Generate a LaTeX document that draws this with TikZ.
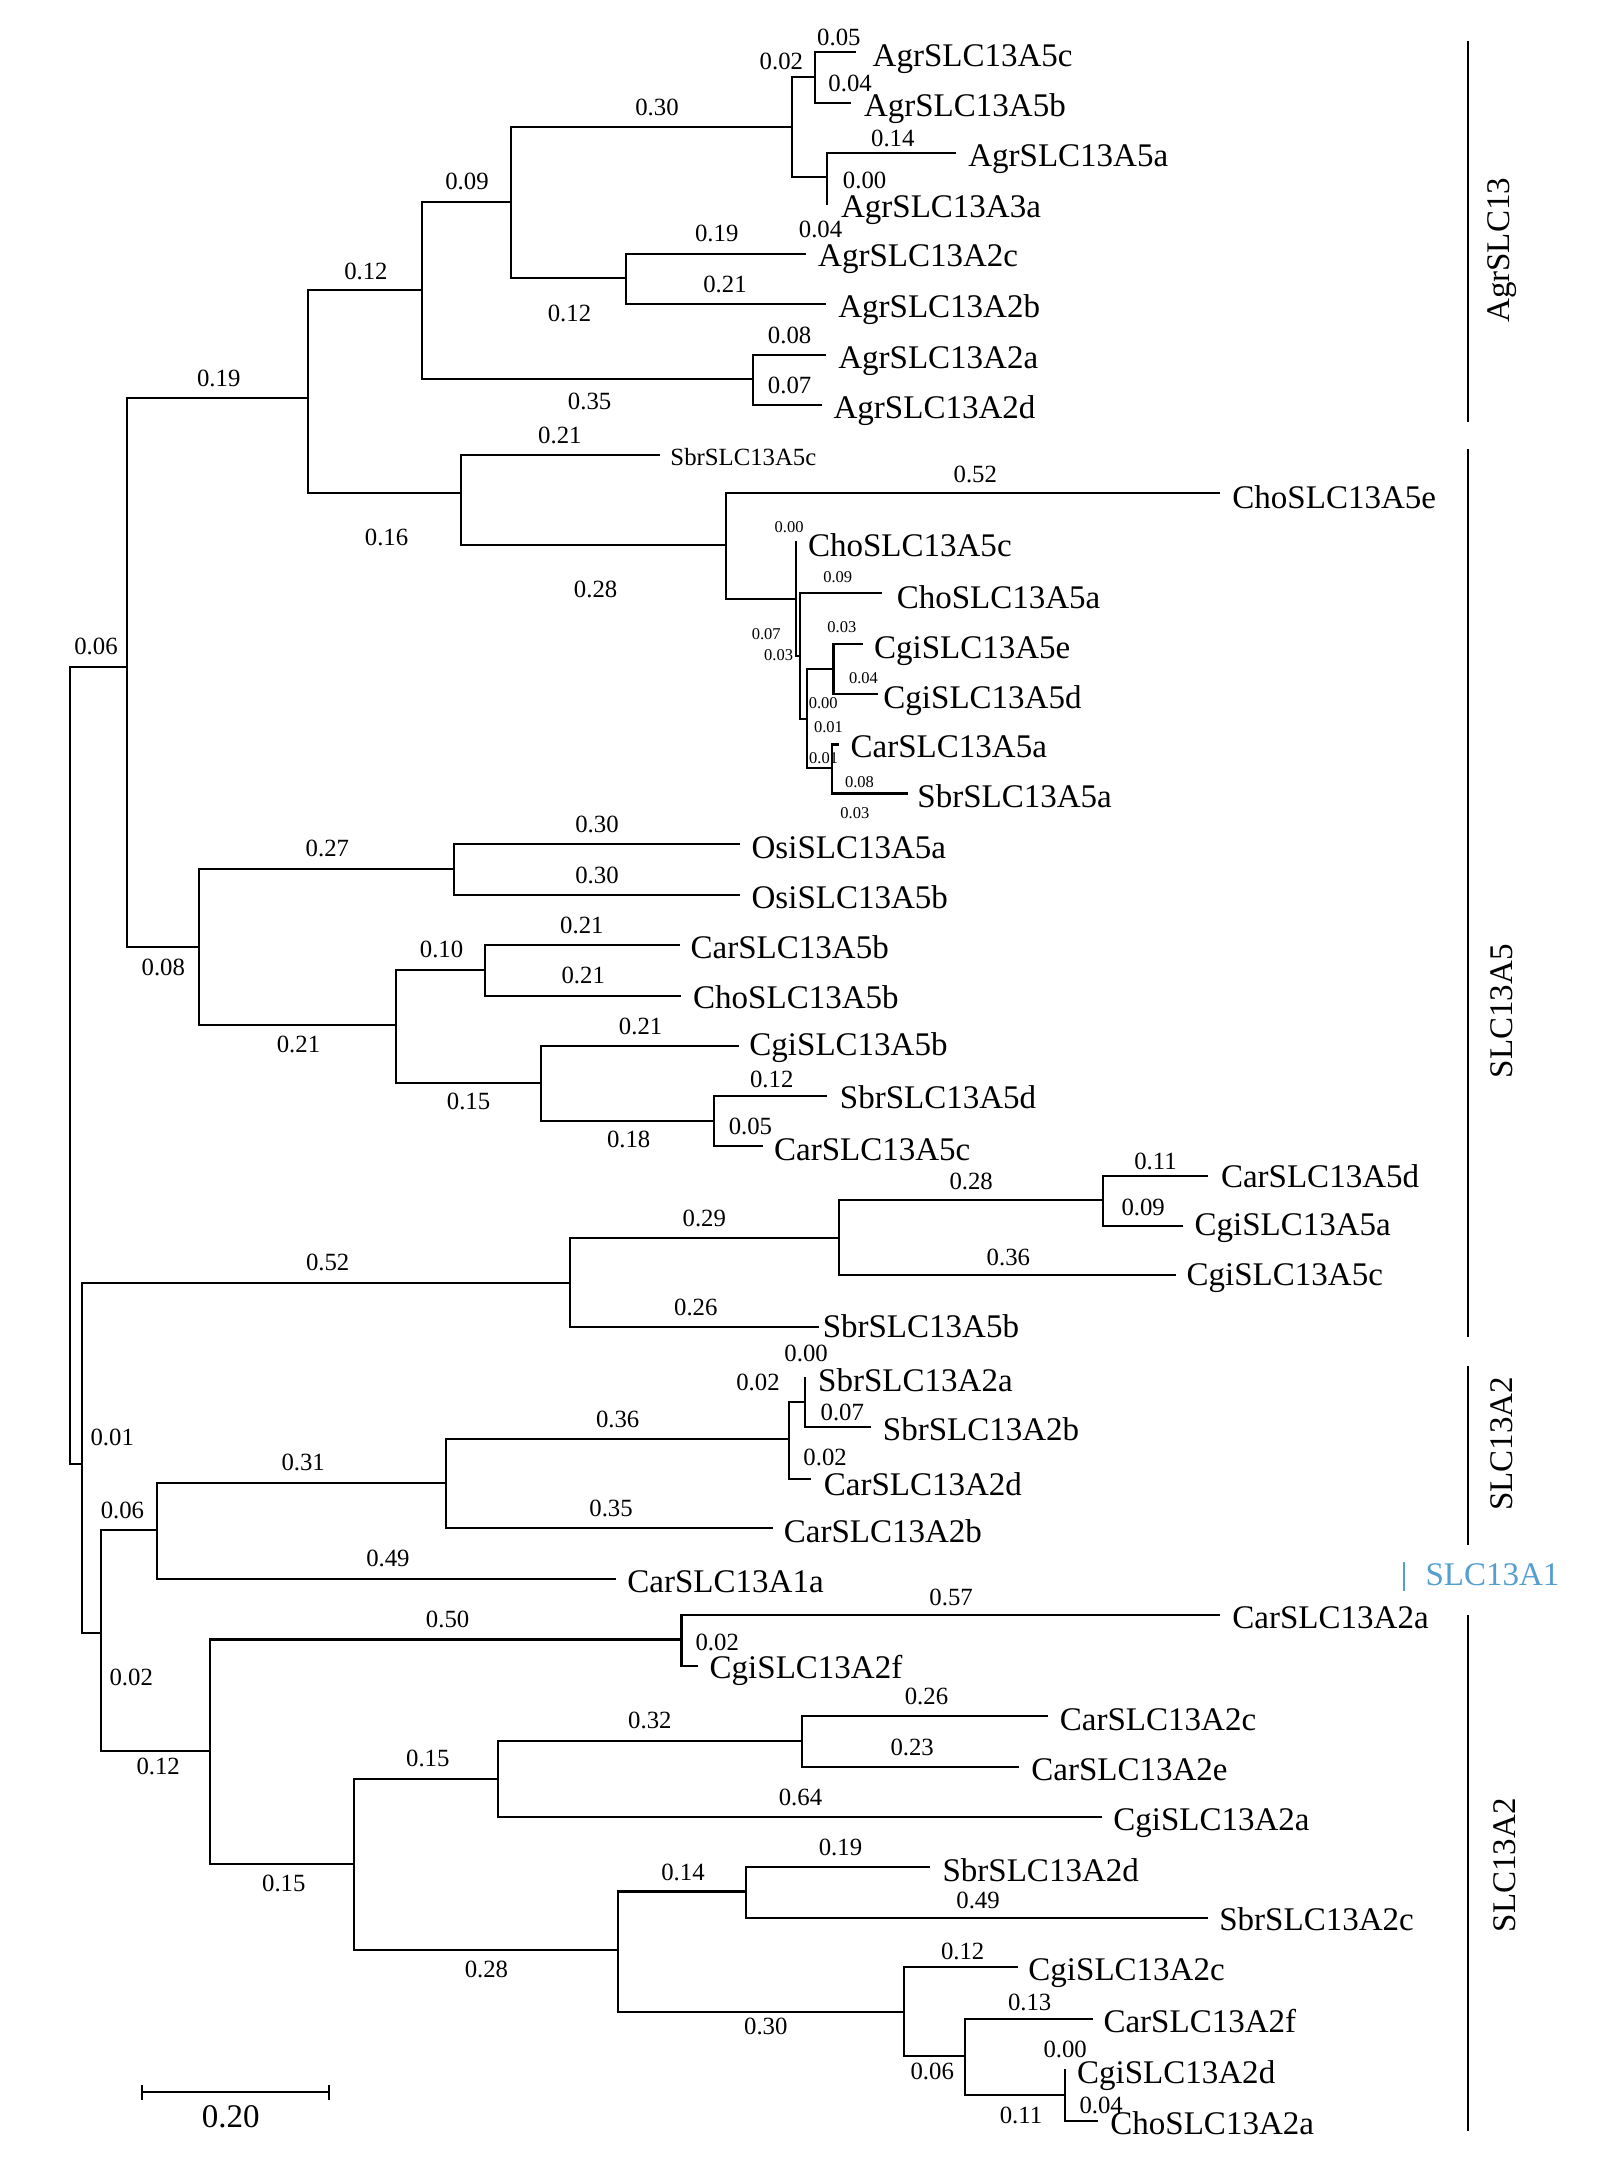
\documentclass[tikz,border=0pt]{standalone}
\usepackage{fontspec}
\setmainfont{Liberation Serif}
\definecolor{slcblue}{RGB}{84,158,208}
\begin{document}
\begin{tikzpicture}[x=0.5pt,y=-0.5pt,
  br/.style={line width=0.75pt,line cap=rect},
  gbar/.style={line width=0.8pt},
  leaf/.style={anchor=base west,inner sep=0pt,font=\fontsize{12}{14}\selectfont},
  sleaf/.style={anchor=base west,inner sep=0pt,font=\fontsize{9}{11}\selectfont},
  bl/.style={inner sep=0pt,font=\fontsize{9}{11}\selectfont},
  tl/.style={inner sep=0pt,font=\fontsize{6}{7}\selectfont},
  grp/.style={rotate=90,inner sep=0pt,font=\fontsize{12}{14}\selectfont}]
\useasboundingbox (0,0) rectangle (1162,1568);
% ---- internal nodes and leaf ends
\coordinate (R) at (50.8,780);
\coordinate (A) at (92,484.8);
\coordinate (B) at (59.4,1064);
\coordinate (A1) at (224,289);
\coordinate (A2) at (144.7,688.4);
\coordinate (G) at (306.5,211);
\coordinate (S) at (335,358.2);
\coordinate (G1) at (371.4,146.6);
\coordinate (G2) at (547.7,275.3);
\coordinate (G11) at (575.6,92.3);
\coordinate (G12) at (455,202);
\coordinate (G111) at (592.3,55.7);
\coordinate (G112) at (601.5,129);
\coordinate (eA5c) at (621.5,37.6);
\coordinate (eA5b) at (618,74.6);
\coordinate (eA5a) at (694,111.5);
\coordinate (eA3a) at (601.5,148);
\coordinate (eA2c) at (584.8,184.7);
\coordinate (eA2b) at (599.4,221);
\coordinate (eA2a) at (599.4,258);
\coordinate (eA2d) at (596.5,294.5);
\coordinate (eS5c) at (478.7,330.9);
\coordinate (C) at (528,396.5);
\coordinate (eCh5e) at (886,358.7);
\coordinate (C1) at (578.6,435.6);
\coordinate (eCh5c) at (578.6,393.9);
\coordinate (C2) at (581.7,477);
\coordinate (eCh5a) at (640.5,431.4);
\coordinate (C3) at (586.5,523);
\coordinate (C4) at (605.9,486.5);
\coordinate (C5) at (604.7,558.2);
\coordinate (eCg5e) at (626.5,468.3);
\coordinate (eCg5d) at (637.4,504.2);
\coordinate (eCa5a) at (608.8,541.2);
\coordinate (eSb5a) at (659.2,576.8);
\coordinate (O) at (330.2,631.9);
\coordinate (eO5a) at (537,613.7);
\coordinate (eO5b) at (537,650.3);
\coordinate (P) at (287.6,744.8);
\coordinate (P1) at (352.5,704.8);
\coordinate (P2) at (393.3,787);
\coordinate (eCa5b) at (493.5,687.1);
\coordinate (eCh5b) at (494.6,723.7);
\coordinate (eCg5b) at (536.2,760.6);
\coordinate (P3) at (518.7,814.9);
\coordinate (eSb5d) at (600.6,796.7);
\coordinate (eCa5c) at (554,833.3);
\coordinate (Q) at (414.5,932.4);
\coordinate (Q1) at (609.8,900);
\coordinate (eSb5b) at (594.4,964.7);
\coordinate (Q2) at (801.8,872.6);
\coordinate (eCg5c) at (853.9,927.1);
\coordinate (eCa5d) at (877.6,855);
\coordinate (eCg5a) at (858.9,891.5);
\coordinate (L) at (73.5,1187.2);
\coordinate (M) at (114.3,1112.5);
\coordinate (N) at (152.9,1272.6);
\coordinate (M1) at (324,1077.9);
\coordinate (eCa1a) at (447.1,1147.7);
\coordinate (M2) at (573.6,1046.3);
\coordinate (eCa2b) at (561.4,1110.8);
\coordinate (M3) at (585.2,1019.2);
\coordinate (eCa2d) at (589,1075);
\coordinate (eSb2a) at (585.2,1001.5);
\coordinate (eSb2b) at (632.7,1037.4);
\coordinate (N1) at (495.4,1191.8);
\coordinate (N2) at (257.1,1355);
\coordinate (eCa2a) at (886,1174.3);
\coordinate (eCg2f) at (506.5,1211.2);
\coordinate (N3) at (361.8,1293.2);
\coordinate (N4) at (449,1417.5);
\coordinate (N5) at (582.7,1265.3);
\coordinate (eCg2a) at (800.5,1320.5);
\coordinate (eCa2c) at (761,1247.6);
\coordinate (eCa2e) at (740.2,1284.2);
\coordinate (N6) at (542.3,1375);
\coordinate (N7) at (656.9,1462.3);
\coordinate (eSb2d) at (675.6,1357.4);
\coordinate (eSb2c) at (877.6,1394.2);
\coordinate (eCg2c) at (738.9,1430.1);
\coordinate (N8) at (701.4,1494.8);
\coordinate (eCa2f) at (793.5,1467.7);
\coordinate (N9) at (774.3,1522.9);
\coordinate (eCg2d) at (774.3,1504.8);
\coordinate (eCh2a) at (797.6,1542);
% ---- branches
\draw[br] (R) |- (A); \draw[br] (R) |- (B);
\draw[br] (A) |- (A1); \draw[br] (A) |- (A2);
\draw[br] (A1) |- (G); \draw[br] (A1) |- (S);
\draw[br] (G) |- (G1); \draw[br] (G) |- (G2);
\draw[br] (G1) |- (G11); \draw[br] (G1) |- (G12);
\draw[br] (G11) |- (G111); \draw[br] (G11) |- (G112);
\draw[br] (G111) |- (eA5c); \draw[br] (G111) |- (eA5b);
\draw[br] (G112) |- (eA5a); \draw[br] (G112) |- (eA3a);
\draw[br] (G12) |- (eA2c); \draw[br] (G12) |- (eA2b);
\draw[br] (G2) |- (eA2a); \draw[br] (G2) |- (eA2d);
\draw[br] (S) |- (eS5c); \draw[br] (S) |- (C);
\draw[br] (C) |- (eCh5e); \draw[br] (C) |- (C1);
\draw[br] (C1) |- (eCh5c); \draw[br] (C1) |- (C2);
\draw[br] (C2) |- (eCh5a); \draw[br] (C2) |- (C3);
\draw[br] (C3) |- (C4); \draw[br] (C3) |- (C5);
\draw[br] (C4) |- (eCg5e); \draw[br] (C4) |- (eCg5d);
\draw[br] (C5) |- (eCa5a); \draw[br] (C5) |- (eSb5a);
\draw[br] (A2) |- (O); \draw[br] (A2) |- (P);
\draw[br] (O) |- (eO5a); \draw[br] (O) |- (eO5b);
\draw[br] (P) |- (P1); \draw[br] (P) |- (P2);
\draw[br] (P1) |- (eCa5b); \draw[br] (P1) |- (eCh5b);
\draw[br] (P2) |- (eCg5b); \draw[br] (P2) |- (P3);
\draw[br] (P3) |- (eSb5d); \draw[br] (P3) |- (eCa5c);
\draw[br] (B) |- (Q); \draw[br] (B) |- (L);
\draw[br] (Q) |- (Q1); \draw[br] (Q) |- (eSb5b);
\draw[br] (Q1) |- (Q2); \draw[br] (Q1) |- (eCg5c);
\draw[br] (Q2) |- (eCa5d); \draw[br] (Q2) |- (eCg5a);
\draw[br] (L) |- (M); \draw[br] (L) |- (N);
\draw[br] (M) |- (M1); \draw[br] (M) |- (eCa1a);
\draw[br] (M1) |- (M2); \draw[br] (M1) |- (eCa2b);
\draw[br] (M2) |- (M3); \draw[br] (M2) |- (eCa2d);
\draw[br] (M3) |- (eSb2a); \draw[br] (M3) |- (eSb2b);
\draw[br] (N) |- (N1); \draw[br] (N) |- (N2);
\draw[br] (N1) |- (eCa2a); \draw[br] (N1) |- (eCg2f);
\draw[br] (N2) |- (N3); \draw[br] (N2) |- (N4);
\draw[br] (N3) |- (N5); \draw[br] (N3) |- (eCg2a);
\draw[br] (N5) |- (eCa2c); \draw[br] (N5) |- (eCa2e);
\draw[br] (N4) |- (N6); \draw[br] (N4) |- (N7);
\draw[br] (N6) |- (eSb2d); \draw[br] (N6) |- (eSb2c);
\draw[br] (N7) |- (eCg2c); \draw[br] (N7) |- (N8);
\draw[br] (N8) |- (eCa2f); \draw[br] (N8) |- (N9);
\draw[br] (N9) |- (eCg2d); \draw[br] (N9) |- (eCh2a);
% ---- leaf names
\node[leaf] (tA5c) at (634,48.5) {AgrSLC13A5c};
\node[leaf] (tA5b) at (627.7,84.8) {AgrSLC13A5b};
\node[leaf] (tA5a) at (703.5,121.2) {AgrSLC13A5a};
\node[leaf] (tA3a) at (611,158.3) {AgrSLC13A3a};
\node[leaf] (tA2c) at (594.4,193.9) {AgrSLC13A2c};
\node[leaf] (tA2b) at (609,231) {AgrSLC13A2b};
\node[leaf] (tA2a) at (609,267.8) {AgrSLC13A2a};
\node[leaf] (tA2d) at (605.6,304.2) {AgrSLC13A2d};
\node[sleaf] (tS5c) at (487,338.1) {SbrSLC13A5c};
\node[leaf] (tCh5e) at (895.5,369.6) {ChoSLC13A5e};
\node[leaf] (tCh5c) at (587,404.8) {ChoSLC13A5c};
\node[leaf] (tCh5a) at (651.5,442.3) {ChoSLC13A5a};
\node[leaf] (tCg5e) at (635,478.7) {CgiSLC13A5e};
\node[leaf] (tCg5d) at (641.8,515) {CgiSLC13A5d};
\node[leaf] (tCa5a) at (618,550.9) {CarSLC13A5a};
\node[leaf] (tSb5a) at (666.5,587.3) {SbrSLC13A5a};
\node[leaf] (tO5a) at (546,624.1) {OsiSLC13A5a};
\node[leaf] (tO5b) at (546,660.5) {OsiSLC13A5b};
\node[leaf] (tCa5b) at (501.7,696.8) {CarSLC13A5b};
\node[leaf] (tCh5b) at (503.5,733.2) {ChoSLC13A5b};
\node[leaf] (tCg5b) at (544.4,767.1) {CgiSLC13A5b};
\node[leaf] (tSb5d) at (610.2,805.9) {SbrSLC13A5d};
\node[leaf] (tCa5c) at (562.3,843.5) {CarSLC13A5c};
\node[leaf] (tCa5d) at (887.2,862.9) {CarSLC13A5d};
\node[leaf] (tCg5a) at (868,898) {CgiSLC13A5a};
\node[leaf] (tCg5c) at (862.2,934.4) {CgiSLC13A5c};
\node[leaf] (tSb5b) at (597.7,972) {SbrSLC13A5b};
\node[leaf] (tSb2a) at (594.4,1011.5) {SbrSLC13A2a};
\node[leaf] (tSb2b) at (641.4,1047) {SbrSLC13A2b};
\node[leaf] (tCa2d) at (598.5,1087) {CarSLC13A2d};
\node[leaf] (tCa2b) at (569.4,1121) {CarSLC13A2b};
\node[leaf] (tCa1a) at (455.7,1157.4) {CarSLC13A1a};
\node[leaf] (tCa2a) at (895.5,1184) {CarSLC13A2a};
\node[leaf] (tCg2f) at (515.5,1220.4) {CgiSLC13A2f};
\node[leaf] (tCa2c) at (770.1,1258) {CarSLC13A2c};
\node[leaf] (tCa2e) at (749.3,1294.4) {CarSLC13A2e};
\node[leaf] (tCg2a) at (808.9,1330.7) {CgiSLC13A2a};
\node[leaf] (tSb2d) at (684.8,1367.8) {SbrSLC13A2d};
\node[leaf] (tSb2c) at (886,1403.4) {SbrSLC13A2c};
\node[leaf] (tCg2c) at (747.2,1439.8) {CgiSLC13A2c};
\node[leaf] (tCa2f) at (801.8,1477.4) {CarSLC13A2f};
\node[leaf] (tCg2d) at (782.6,1514.4) {CgiSLC13A2d};
\node[leaf] (tCh2a) at (806.8,1551.3) {ChoSLC13A2a};
% ---- branch lengths
\node[bl] (b1) at (609.8,27) {0.05};
\node[bl] (b2) at (568,45) {0.02};
\node[bl] (b3) at (618,60.6) {0.04};
\node[bl] (b4) at (477.6,78) {0.30};
\node[bl] (b5) at (649,100.6) {0.14};
\node[bl] (b6) at (628.5,131) {0.00};
\node[bl] (b7) at (339.5,132) {0.09};
\node[bl] (b8) at (596.5,167) {0.04};
\node[bl] (b9) at (521,170) {0.19};
\node[bl] (b10) at (266,197) {0.12};
\node[bl] (b11) at (527,207) {0.21};
\node[bl] (b12) at (414,228) {0.12};
\node[bl] (b13) at (574,243.6) {0.08};
\node[bl] (b14) at (159,275) {0.19};
\node[bl] (b15) at (574,280.4) {0.07};
\node[bl] (b16) at (428.6,292) {0.35};
\node[bl] (b17) at (407,316.3) {0.21};
\node[bl] (b18) at (709,344.7) {0.52};
\node[tl] (b19) at (573.6,383) {0.00};
\node[bl] (b20) at (281,390.7) {0.16};
\node[tl] (b21) at (609,419.5) {0.09};
\node[bl] (b22) at (433,428.5) {0.28};
\node[tl] (b23) at (612,455.7) {0.03};
\node[tl] (b24) at (557,461) {0.07};
\node[bl] (b25) at (69.8,470.2) {0.06};
\node[tl] (b26) at (566,476.5) {0.03};
\node[tl] (b27) at (627.7,492.8) {0.04};
\node[tl] (b28) at (598.4,511.4) {0.00};
\node[tl] (b29) at (602.3,528.4) {0.01};
\node[tl] (b30) at (598.7,551.4) {0.01};
\node[tl] (b31) at (624.8,568.4) {0.08};
\node[tl] (b32) at (621.4,591.4) {0.03};
\node[bl] (b33) at (434,599.4) {0.30};
\node[bl] (b34) at (238,616.8) {0.27};
\node[bl] (b35) at (434,636.2) {0.30};
\node[bl] (b36) at (423,672.6) {0.21};
\node[bl] (b37) at (321,690.3) {0.10};
\node[bl] (b38) at (118.7,702.9) {0.08};
\node[bl] (b39) at (424,709) {0.21};
\node[bl] (b40) at (465.7,746) {0.21};
\node[bl] (b41) at (217,759.1) {0.21};
\node[bl] (b42) at (561,784.8) {0.12};
\node[bl] (b43) at (340.6,801) {0.15};
\node[bl] (b44) at (545.5,818.5) {0.05};
\node[bl] (b45) at (457,828.2) {0.18};
\node[bl] (b46) at (840,844) {0.11};
\node[bl] (b47) at (706,858.5) {0.28};
\node[bl] (b48) at (831,877.4) {0.09};
\node[bl] (b49) at (512,885.9) {0.29};
\node[bl] (b50) at (733,913.8) {0.36};
\node[bl] (b51) at (238.2,917.4) {0.52};
\node[bl] (b52) at (505.8,950.1) {0.26};
\node[bl] (b53) at (586,984) {0.00};
\node[bl] (b54) at (551,1005) {0.02};
\node[bl] (b55) at (612.3,1026.5) {0.07};
\node[bl] (b56) at (449,1032) {0.36};
\node[bl] (b57) at (81.6,1044.7) {0.01};
\node[bl] (b58) at (599.8,1059.7) {0.02};
\node[bl] (b59) at (220.4,1063.3) {0.31};
\node[bl] (b60) at (444.2,1096.3) {0.35};
\node[bl] (b61) at (89,1098) {0.06};
\node[bl] (b62) at (282,1132.6) {0.49};
\node[bl] (b63) at (691.4,1161) {0.57};
\node[bl] (b64) at (325.4,1177.5) {0.50};
\node[bl] (b65) at (521.4,1193.7) {0.02};
\node[bl] (b66) at (95.4,1219.2) {0.02};
\node[bl] (b67) at (673.5,1233.2) {0.26};
\node[bl] (b68) at (472.4,1250.7) {0.32};
\node[bl] (b69) at (663.1,1270.1) {0.23};
\node[bl] (b70) at (311,1278.6) {0.15};
\node[bl] (b71) at (115,1284) {0.12};
\node[bl] (b72) at (581.9,1306.5) {0.64};
\node[bl] (b73) at (611,1342.8) {0.19};
\node[bl] (b74) at (496.5,1361) {0.14};
\node[bl] (b75) at (206.3,1369) {0.15};
\node[bl] (b76) at (711,1381.6) {0.49};
\node[bl] (b77) at (699.8,1418.5) {0.12};
\node[bl] (b78) at (353.6,1432) {0.28};
\node[bl] (b79) at (748.5,1455.5) {0.13};
\node[bl] (b80) at (556.7,1473.2) {0.30};
\node[bl] (b81) at (774.3,1490) {0.00};
\node[bl] (b82) at (677.7,1505.7) {0.06};
\node[bl] (b83) at (800.5,1530.7) {0.04};
\node[bl] (b84) at (742.2,1537.5) {0.11};
% ---- group bars and labels
\coordinate (g1t) at (1067,29.6); \coordinate (g1b) at (1067,306.6);
\coordinate (g2t) at (1067,326.7); \coordinate (g2b) at (1067,972);
\coordinate (g3t) at (1067,993.3); \coordinate (g3b) at (1067,1123.4);
\coordinate (g4t) at (1067,1174); \coordinate (g4b) at (1067,1548.8);
\coordinate (g5t) at (1020.5,1135.5); \coordinate (g5b) at (1020.5,1156.9);
\draw[gbar] (g1t) -- (g1b);
\draw[gbar] (g2t) -- (g2b);
\draw[gbar] (g3t) -- (g3b);
\draw[gbar] (g4t) -- (g4b);
\draw[slcblue,line width=0.6pt] (g5t) -- (g5b);
\node[grp] (gl1) at (1092,182) {AgrSLC13};
\node[grp] (gl2) at (1092,735) {SLC13A5};
\node[grp] (gl3) at (1092,1049.5) {SLC13A2};
\node[grp] (gl4) at (1094,1356) {SLC13A2};
\node[leaf,text=slcblue] (gl5) at (1035.9,1152.5) {SLC13A1};
% ---- scale bar
\coordinate (s1) at (103.2,1521); \coordinate (s2) at (239.3,1521);
\draw[line width=0.8pt] (s1) -- (s2);
\draw[line width=0.8pt] ([yshift=2.7pt]s1) -- ([yshift=-2.7pt]s1);
\draw[line width=0.8pt] ([yshift=2.7pt]s2) -- ([yshift=-2.7pt]s2);
\node[inner sep=0pt,font=\fontsize{12}{14}\selectfont] (sl) at (167.7,1538.7) {0.20};
\end{tikzpicture}
\end{document}
